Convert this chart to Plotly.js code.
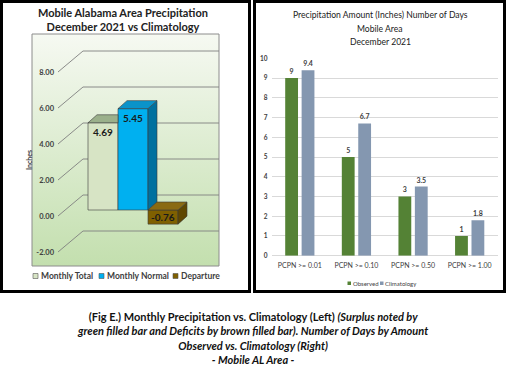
<!DOCTYPE html>
<html><head><meta charset="utf-8">
<script src="https://cdn.plot.ly/plotly-3.0.1.min.js"></script>
<style>html,body{margin:0;padding:0;background:#fff}#chart{width:506px;height:369px}</style>
</head><body><div id="chart"></div>
<script>
// ---- Left chart data ----
const leftTitle = "Mobile Alabama Area Precipitation<br>December 2021 vs Climatology";
const leftSeries = ["Monthly Total", "Monthly Normal", "Departure"];
const leftValues = [4.69, 5.45, -0.76];
const leftTicks = [-2, 0, 2, 4, 6, 8];
const leftAxisTitle = "Inches";
// ---- Right chart data ----
const rightTitleLines = ["Precipitation Amount (Inches) Number of Days", "Mobile Area", "December 2021"];
const rightCategories = ["PCPN >= 0.01", "PCPN >= 0.10", "PCPN >= 0.50", "PCPN >= 1.00"];
const rightSeries = ["Observed", "Climatology"];
const observedDays = [9, 5, 3, 1];
const climatologyDays = [9.4, 6.7, 3.5, 1.8];
const rightTicks = [0, 1, 2, 3, 4, 5, 6, 7, 8, 9, 10];
// ---- Caption ----
const caption = "<b>(Fig E.) Monthly Precipitation vs. Climatology (Left) <i>(Surplus noted by</i></b><br>" +
  "<b><i>green filled bar and Deficits by brown filled bar). Number of Days by Amount</i></b><br>" +
  "<b><i>Observed vs. Climatology (Right)</i></b><br><b><i>- Mobile AL Area -</i></b>";

// ---- styling ----
const W = 506, H = 369;
const X = p => p / W, Y = p => 1 - p / H;
const FONT = "Lato, 'Open Sans', sans-serif";
const frontCol = ["#d7e4c5", "#00b0f0", "#7f6000"];
const topCol = ["#9bb08b", "#0b93c9", "#8a6a12"];
const sideCol = ["#8aa07a", "#00709f", "#5f4700"];
const edge = "#3a3a3a";

// left geometry (front plane: 30px per category, 18px per unit)
const lxMin = -1.5, lxMax = -1.5 + 161 / 30;
const lyMin = -3, lyMax = -3 + 236 / 18;
const wallDx = 25 / 30, wallDy = 21 / 18;
const barScale = 18.6;
const b2Min = -(270 - 210) / barScale, b2Max = (210 - 34) / barScale;
const barDx = 9 / 30, barDy = 8 / barScale;

const traces = [];
const shapes = [];
const annotations = [];

// gradient wall as background image
const svg = "<svg xmlns='http://www.w3.org/2000/svg' width='187' height='232'><defs><linearGradient id='g' x1='0' y1='0' x2='0' y2='1'><stop offset='0' stop-color='#f6f9f2'/><stop offset='1' stop-color='#c3dfae'/></linearGradient></defs><rect width='187' height='232' fill='url(#g)'/></svg>";
const images = [{
  source: "data:image/svg+xml;charset=utf-8," + encodeURIComponent(svg),
  xref: "paper", yref: "paper", x: X(32), y: Y(34), sizex: 187 / W, sizey: 232 / H,
  xanchor: "left", yanchor: "top", sizing: "stretch", layer: "below"
}];
shapes.push({type: "rect", xref: "paper", yref: "paper", x0: X(32), x1: X(219), y0: Y(266), y1: Y(34),
  line: {color: "#8c8c8c", width: 1}, layer: "below"});

// 3D gridlines (front label -> back wall)
leftTicks.forEach(v => {
  shapes.push({type: "path", xref: "x", yref: "y", layer: "below",
    path: `M ${lxMin},${v} L ${lxMin + wallDx},${v + wallDy} L ${lxMax},${v + wallDy}`,
    line: {color: "#7f7f7f", width: 0.9}});
});

// left bars (front faces)
leftValues.forEach((v, i) => {
  traces.push({type: "bar", x: [i], y: [v], width: 1, offset: -0.5, xaxis: "x", yaxis: "y2",
    name: leftSeries[i], showlegend: false, hoverinfo: "skip",
    marker: {color: frontCol[i], line: {color: edge, width: 0.6}}});
});
// top & side faces
leftValues.forEach((v, i) => {
  const x0 = i - 0.5, x1 = i + 0.5;
  const top = Math.max(v, 0), bot = Math.min(v, 0);
  const next = leftValues[i + 1];
  const hidden = (next !== undefined && next > top);
  if (!hidden) {
    shapes.push({type: "path", xref: "x", yref: "y2", layer: "above",
      path: `M ${x1},${bot} L ${x1},${top} L ${x1 + barDx},${top + barDy} L ${x1 + barDx},${bot + barDy} Z`,
      fillcolor: sideCol[i], line: {color: edge, width: 0.6}});
  }
  const p = hidden
    ? `M ${x0},${top} L ${x0 + barDx},${top + barDy} L ${x1},${top + barDy} L ${x1},${top} Z`
    : `M ${x0},${top} L ${x0 + barDx},${top + barDy} L ${x1 + barDx},${top + barDy} L ${x1},${top} Z`;
  shapes.push({type: "path", xref: "x", yref: "y2", layer: "above", path: p,
    fillcolor: topCol[i], line: {color: edge, width: 0.6}});
  annotations.push({xref: "x", yref: "y2", x: i, y: v > 0 ? v : v / 2, yshift: v > 0 ? -9 : 0,
    text: "<b>" + v.toFixed(2) + "</b>", showarrow: false, xanchor: "center", yanchor: "middle",
    font: {family: FONT, size: 10, color: "#1a1a1a"}});
});

// left title & axis title
annotations.push({xref: "paper", yref: "paper", x: X(123), y: Y(20), text: "<b>" + leftTitle + "</b>",
  showarrow: false, xanchor: "center", yanchor: "middle", font: {family: FONT, size: 11, color: "#222"}});
annotations.push({xref: "paper", yref: "paper", x: X(29), y: Y(160), text: "<b>" + leftAxisTitle + "</b>",
  textangle: -90, showarrow: false, xanchor: "center", yanchor: "middle",
  font: {family: FONT, size: 7, color: "#404040"}});

// left legend
const lLegX = [33, 99, 173];
leftSeries.forEach((s, i) => {
  shapes.push({type: "rect", xref: "paper", yref: "paper", x0: X(lLegX[i]), x1: X(lLegX[i] + 5),
    y0: Y(278.5), y1: Y(273.5), fillcolor: frontCol[i], line: {color: "#555", width: 0.6}});
  annotations.push({xref: "paper", yref: "paper", x: X(lLegX[i] + 6), y: Y(276), xanchor: "left",
    yanchor: "middle", text: s, showarrow: false, font: {family: FONT, size: 8.5, color: "#404040", weight: "bold"}});
});

// right bars
const rCols = ["#548235", "#8497b0"];
[observedDays, climatologyDays].forEach((vals, k) => {
  traces.push({type: "bar", x: rightCategories, y: vals, name: rightSeries[k], xaxis: "x2", yaxis: "y3",
    marker: {color: rCols[k]}, text: vals.map(String), textposition: "outside", cliponaxis: false,
    textfont: {family: FONT, size: 7, color: "#404040", weight: "bold"}, showlegend: false, hoverinfo: "skip"});
});
const rTitleY = [15, 28.5, 42];
rightTitleLines.forEach((t, j) => {
  annotations.push({xref: "paper", yref: "paper", x: X(380), y: Y(rTitleY[j]), text: t,
    showarrow: false, xanchor: "center", yanchor: "middle", font: {family: FONT, size: 8.6, color: "#222"}});
});
const rLegX = [347.5, 380];
rightSeries.forEach((s, k) => {
  shapes.push({type: "rect", xref: "paper", yref: "paper", x0: X(rLegX[k]), x1: X(rLegX[k] + 3.5),
    y0: Y(285), y1: Y(281.5), fillcolor: rCols[k], line: {width: 0}});
  annotations.push({xref: "paper", yref: "paper", x: X(rLegX[k] + 3), y: Y(283.3), xanchor: "left",
    yanchor: "middle", text: s, showarrow: false, font: {family: FONT, size: 6, color: "#404040"}});
});

// caption
annotations.push({xref: "paper", yref: "paper", x: X(252), y: Y(338), text: caption, showarrow: false,
  xanchor: "center", yanchor: "middle", font: {family: FONT, size: 11, color: "#111"}});

// panel borders
shapes.push({type: "rect", xref: "paper", yref: "paper", x0: X(1.5), x1: X(249.5), y0: Y(291.5), y1: Y(1.5),
  line: {color: "#000", width: 3}});
shapes.push({type: "rect", xref: "paper", yref: "paper", x0: X(254.5), x1: X(504.5), y0: Y(291.5), y1: Y(1.5),
  line: {color: "#000", width: 3}});

const layout = {
  width: W, height: H, margin: {l: 0, r: 0, t: 0, b: 0},
  paper_bgcolor: "#fff", plot_bgcolor: "rgba(0,0,0,0)",
  showlegend: false, barmode: "group", bargap: 0.42, bargroupgap: 0.22,
  font: {family: FONT},
  xaxis: {domain: [X(58), X(219)], range: [lxMin, lxMax], visible: false, anchor: "y", fixedrange: true},
  yaxis: {domain: [Y(270), Y(34)], range: [lyMin, lyMax], anchor: "x", tickvals: leftTicks,
    ticktext: leftTicks.map(v => v.toFixed(2)), showgrid: false, zeroline: false, showline: false, ticks: "",
    tickfont: {family: FONT, size: 7.5, color: "#404040", weight: "bold"}, ticklabelstandoff: 3, fixedrange: true},
  yaxis2: {domain: [Y(270), Y(34)], range: [b2Min, b2Max], overlaying: "y", anchor: "x", visible: false},
  xaxis2: {domain: [X(271.5), X(498)], anchor: "y3", type: "category", showgrid: false, showline: false,
    ticks: "", tickfont: {family: FONT, size: 7, color: "#404040"}, ticklabelstandoff: 4, fixedrange: true},
  yaxis3: {domain: [Y(255.7), Y(58.3)], range: [0, 10], anchor: "x2", tickvals: rightTicks,
    gridcolor: "#d9d9d9", gridwidth: 1, zeroline: true, zerolinecolor: "#d9d9d9", showline: false, ticks: "",
    tickfont: {family: FONT, size: 6.5, color: "#404040", weight: "bold"}, ticklabelstandoff: 3, fixedrange: true},
  shapes, annotations, images
};
Plotly.newPlot("chart", traces, layout, {staticPlot: true, displayModeBar: false});
</script></body></html>
